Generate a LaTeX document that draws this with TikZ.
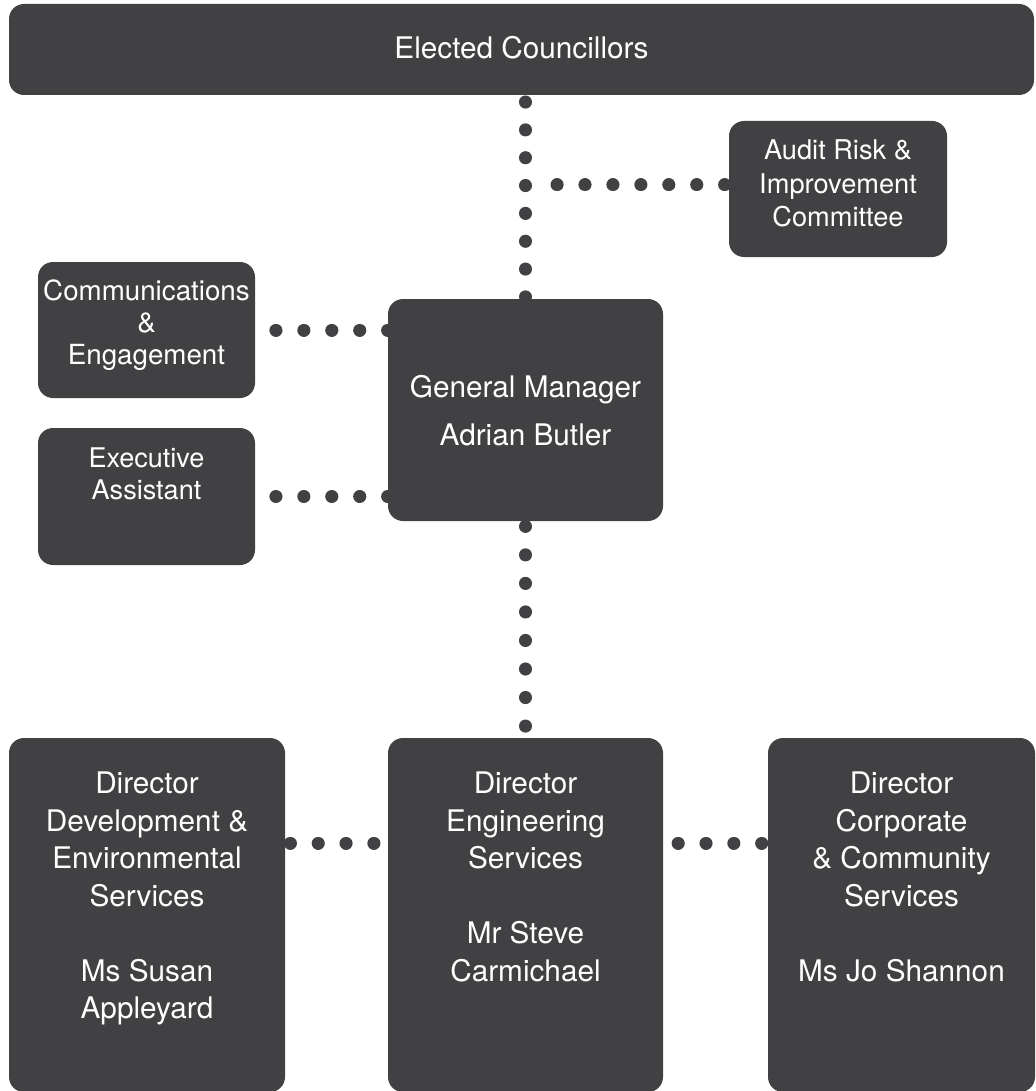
\documentclass[tikz,border=0pt]{standalone}
\usepackage{fontspec}
\setmainfont{TeX Gyre Heros}
\definecolor{boxgray}{HTML}{414042}
\pgfdeclarelayer{bg}
\pgfsetlayers{bg,main}
\begin{document}
\begin{tikzpicture}[x=0.75pt,y=-0.75pt,
  box/.style={fill=boxgray, rounded corners=11.25pt, inner sep=0pt, draw=none},
  lbl/.style={text=white, align=center, inner sep=0pt},
  big/.style={font=\fontsize{22.3pt}{28.1pt}\selectfont},
  dotln/.style={line width=9.75pt, line cap=round, draw=boxgray}]
\useasboundingbox (0,0) rectangle (1035,1091);
% boxes
\node[box, minimum width=768.75pt, minimum height=68.25pt] (bar) at (521.5,49.5) {};
\node[box, minimum width=163.5pt, minimum height=102pt] (audit) at (838,189) {};
\node[box, minimum width=162.75pt, minimum height=102pt] (comm) at (146.5,330) {};
\node[box, minimum width=162.75pt, minimum height=102.75pt] (exec) at (146.5,496.5) {};
\node[box, minimum width=206.25pt, minimum height=166.5pt] (gm) at (525.5,410) {};
\node[box, minimum width=207pt, minimum height=265.5pt] (dl) at (147,915) {};
\node[box, minimum width=206.25pt, minimum height=265.5pt] (dm) at (525.5,915) {};
\node[box, minimum width=200.25pt, minimum height=265.5pt] (dr) at (901.5,915) {};
% texts
\node[lbl, big] (bart) at (521.5,48) {Elected Councillors};
\node[lbl, font=\fontsize{20.4pt}{25.1pt}\selectfont] (auditt) at (838,183.5) {Audit Risk \&\\Improvement\\Committee};
\node[lbl, font=\fontsize{20.8pt}{24pt}\selectfont] (commt) at (146.5,325) {Communications\\\&\\Engagement};
\node[lbl, font=\fontsize{20.3pt}{24pt}\selectfont] (exect) at (146.5,474) {Executive\\Assistant};
\node[lbl, font=\fontsize{22.3pt}{36pt}\selectfont] (gmt) at (525.5,411) {General Manager\\Adrian Butler};
\node[lbl, big, anchor=north] (dlt) at (147,772) {Director\\Development \&\\Environmental\\Services\\[28.1pt]Ms Susan\\Appleyard};
\node[lbl, big, anchor=north] (dmt) at (525.5,772) {Director\\Engineering\\Services\\[28.1pt]Mr Steve\\Carmichael};
\node[lbl, big, anchor=north] (drt) at (901.5,772) {Director\\Corporate\\\& Community\\Services\\[28.1pt]Ms Jo Shannon};
% connectors
\coordinate (aj) at (548,185);
\coordinate (hl) at (0,843);
\begin{pgfonlayer}{bg}
\draw[dotln, dash pattern=on 0.1pt off 20.78pt, dash phase=15.85pt] (bar.south -| gm.north) -- (gm.north);
\draw[dotln, dash pattern=on 0.1pt off 20.85pt, dash phase=17.95pt] (audit.west |- aj) -- (aj);
\draw[dotln, dash pattern=on 0.1pt off 20.85pt] (gm.west |- comm.east) -- (comm.east);
\draw[dotln, dash pattern=on 0.1pt off 20.85pt] (gm.west |- exec.east) -- (exec.east);
\draw[dotln, dash pattern=on 0.1pt off 21.3pt, dash phase=17.65pt] (gm.south) -- (dm.north);
\draw[dotln, dash pattern=on 0.1pt off 20.78pt, dash phase=17.1pt] (dl.east |- hl) -- (dm.west |- hl);
\draw[dotln, dash pattern=on 0.1pt off 20.78pt, dash phase=16.4pt] (dr.west |- hl) -- (dm.east |- hl);
\end{pgfonlayer}
\end{tikzpicture}
\end{document}
